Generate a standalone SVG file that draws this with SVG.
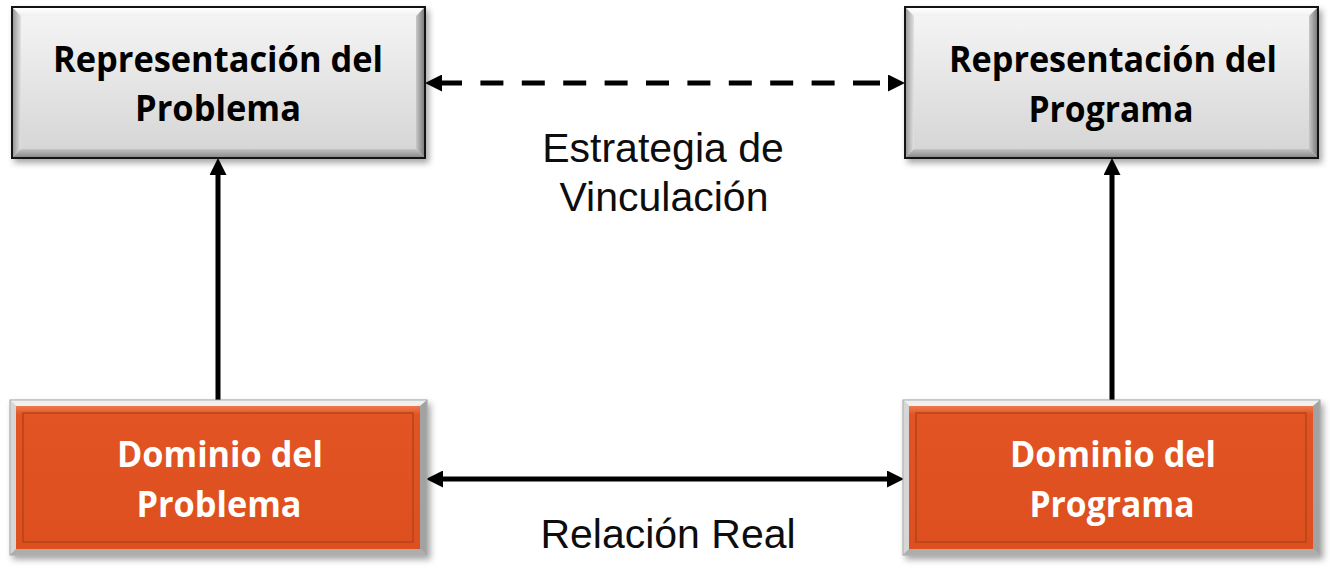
<svg xmlns="http://www.w3.org/2000/svg" xmlns:xlink="http://www.w3.org/1999/xlink" width="1330" height="569" viewBox="0 0 1330 569">
<style>
.nt{font-family:"Open Sans","Noto Sans",sans-serif;font-weight:700;font-size:36px;text-anchor:middle}
.dk{fill:#000}
.lt{fill:#fff}
.lbl{font-family:"Liberation Sans",Arial,sans-serif;font-size:41px;text-anchor:middle;fill:#0d0d0d}
.conn{fill:none;stroke:#000;stroke-width:5}
</style>
<defs>
<filter id="sh" x="-5%" y="-5%" width="115%" height="120%">
<feDropShadow dx="3" dy="4" stdDeviation="3" flood-color="#000" flood-opacity="0.35"/>
</filter>
<linearGradient id="gFace" x1="0" y1="0" x2="0" y2="1">
<stop offset="0" stop-color="#f6f6f6"/>
<stop offset="1" stop-color="#d4d4d4"/>
</linearGradient>
<linearGradient id="gLeft" x1="0" y1="0" x2="1" y2="0">
<stop offset="0" stop-color="#9a9a9a"/>
<stop offset="1" stop-color="#e2e2e2"/>
</linearGradient>
<linearGradient id="gRight" x1="0" y1="0" x2="1" y2="0">
<stop offset="0" stop-color="#c8c8c8"/>
<stop offset="1" stop-color="#7e7e7e"/>
</linearGradient>
<linearGradient id="gTop" x1="0" y1="0" x2="0" y2="1">
<stop offset="0" stop-color="#ffffff"/>
<stop offset="1" stop-color="#f0f0f0"/>
</linearGradient>
<linearGradient id="gBot" x1="0" y1="0" x2="0" y2="1">
<stop offset="0" stop-color="#c4c4c4"/>
<stop offset="1" stop-color="#8c8c8c"/>
</linearGradient>
<linearGradient id="oFace" x1="0" y1="0" x2="0" y2="1">
<stop offset="0" stop-color="#ef7a4c"/>
<stop offset="0.06" stop-color="#e25423"/>
<stop offset="1" stop-color="#de4f1f"/>
</linearGradient>
<g id="grayBox">
<rect x="0" y="0" width="413" height="151" fill="url(#gFace)" stroke="#141414" stroke-width="2" filter="url(#sh)"/>
<polygon points="1,1 412,1 404,9 9,9" fill="url(#gTop)"/>
<polygon points="1,1 9,9 9,142 1,150" fill="url(#gLeft)"/>
<polygon points="412,1 412,150 404,142 404,9" fill="url(#gRight)"/>
<polygon points="1,150 412,150 404,142 9,142" fill="url(#gBot)"/>
<rect x="0" y="0" width="413" height="151" fill="none" stroke="#141414" stroke-width="2"/>
</g>
<g id="orangeBox">
<rect x="0" y="0" width="417" height="155" fill="#c8c8c8" stroke="#9a9a9a" stroke-width="1" filter="url(#sh)"/>
<polygon points="0.5,0.5 416.5,0.5 410,6 6,6" fill="#f0f0f0"/>
<polygon points="0.5,0.5 6,6 6,149 0.5,154.5" fill="#d6d6d6"/>
<polygon points="416.5,0.5 416.5,154.5 410,149 410,6" fill="#a2a2a2"/>
<polygon points="0.5,154.5 416.5,154.5 410,149 6,149" fill="#adadad"/>
<rect x="6" y="6" width="404" height="143" fill="url(#oFace)"/>
<rect x="13" y="13" width="390" height="129" fill="none" stroke="#b4441a" stroke-width="1.5"/>
</g>
<marker id="ah" viewBox="0 0 17 17" markerUnits="userSpaceOnUse" markerWidth="17" markerHeight="17" refX="7" refY="8.5" orient="auto-start-reverse">
<path d="M0,0 L17,8.5 L0,17 Z" fill="#000"/>
</marker>
</defs>

<g id="connectors">
<line id="c-dashed" class="conn" x1="435" y1="83" x2="895" y2="83" stroke-dasharray="27 18.4 23 18.4 23 18.4 23 18.4 23 18.4 23 18.4 23 18.4 23 18.4 23 18.4 23 18.4" marker-start="url(#ah)" marker-end="url(#ah)"/>
<line id="c-real" class="conn" x1="436" y1="479" x2="894" y2="479" marker-start="url(#ah)" marker-end="url(#ah)"/>
<line id="c-left" class="conn" x1="218" y1="400" x2="218" y2="168" marker-end="url(#ah)"/>
<line id="c-right" class="conn" x1="1112" y1="400" x2="1112" y2="168" marker-end="url(#ah)"/>
</g>

<g id="rep-problema">
<use xlink:href="#grayBox" href="#grayBox" x="12" y="7"/>
<text class="nt dk" x="218" y="72" textLength="330" lengthAdjust="spacingAndGlyphs">Representación del</text>
<text class="nt dk" x="218" y="121" textLength="166" lengthAdjust="spacingAndGlyphs">Problema</text>
</g>

<g id="rep-programa">
<use xlink:href="#grayBox" href="#grayBox" x="905" y="7"/>
<text class="nt dk" x="1113" y="72" textLength="328" lengthAdjust="spacingAndGlyphs">Representación del</text>
<text class="nt dk" x="1111" y="122" textLength="165" lengthAdjust="spacingAndGlyphs">Programa</text>
</g>

<g id="dom-problema">
<use xlink:href="#orangeBox" href="#orangeBox" x="10" y="400"/>
<text class="nt lt" x="220" y="467" textLength="206" lengthAdjust="spacingAndGlyphs">Dominio del</text>
<text class="nt lt" x="219" y="517" textLength="165" lengthAdjust="spacingAndGlyphs">Problema</text>
</g>

<g id="dom-programa">
<use xlink:href="#orangeBox" href="#orangeBox" x="903" y="400"/>
<text class="nt lt" x="1113" y="467" textLength="206" lengthAdjust="spacingAndGlyphs">Dominio del</text>
<text class="nt lt" x="1112" y="517" textLength="165" lengthAdjust="spacingAndGlyphs">Programa</text>
</g>

<g id="labels">
<text class="lbl" x="663" y="162">Estrategia de</text>
<text class="lbl" x="664" y="211">Vinculación</text>
<text class="lbl" x="668" y="548">Relación Real</text>
</g>
</svg>
